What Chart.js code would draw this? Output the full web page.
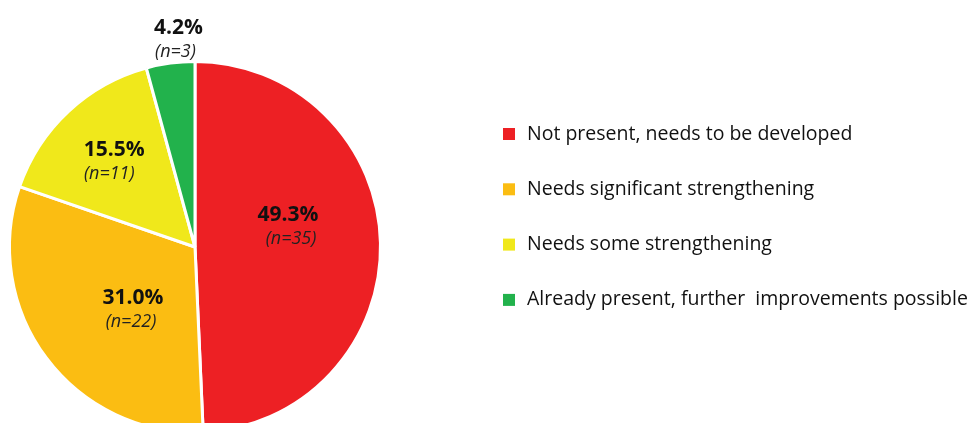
<!DOCTYPE html>
<html><head><meta charset="utf-8">
<script src="https://cdn.jsdelivr.net/npm/chart.js@4"></script>
<style>
html,body{margin:0;padding:0;background:#fff;overflow:hidden;}
#wrap{position:relative;width:976px;height:440px;}
</style></head><body>
<div id="wrap"><canvas id="c" width="976" height="440"></canvas></div>
<script>
const categories = ["Not present, needs to be developed","Needs significant strengthening","Needs some strengthening","Already present, further  improvements possible"];
const counts = [35, 22, 11, 3];
const percentLabels = ["49.3%","31.0%","15.5%","4.2%"];
const nLabels = ["(n=35)","(n=22)","(n=11)","(n=3)"];
const colors = ["#ED2024","#FBBD12","#F0E81B","#22B24C"];

const labelPos = [
  {r:0.55, dx:-9, dy:-30, ndx:3},
  {r:0.72, dx:45, dy:-29, ndx:-2},
  {r:0.85, dx:27, dy:18, ndx:-5},
  {r:1.0, dx:8, dy:-35, ndx:-3}
];
const FONT = "'Open Sans', 'Noto Sans', sans-serif";

const sliceLabels = {
  id:'sliceLabels',
  afterDatasetsDraw(chart){
    const ctx = chart.ctx;
    const meta = chart.getDatasetMeta(0);
    meta.data.forEach((arc,i)=>{
      const p = arc.getProps(['x','y','startAngle','endAngle','outerRadius'],true);
      const mid = (p.startAngle+p.endAngle)/2;
      const lp = labelPos[i];
      const rr = p.outerRadius*lp.r;
      const x = p.x + Math.cos(mid)*rr + lp.dx;
      const y = p.y + Math.sin(mid)*rr + lp.dy;
      ctx.save();
      ctx.textAlign='center';ctx.textBaseline='middle';
      ctx.fillStyle='#111';
      ctx.font = "bold 21px " + FONT;
      ctx.fillText(percentLabels[i], x, y);
      ctx.font = "italic 18px " + FONT;
      ctx.fillStyle='#222';
      ctx.fillText(nLabels[i], x + lp.ndx, y+24);
      ctx.restore();
    });
  }
};

const sideLegend = {
  id:'sideLegend',
  afterDraw(chart){
    const ctx = chart.ctx;
    ctx.save();
    ctx.textBaseline='middle';ctx.textAlign='left';
    ctx.font = "19.5px " + FONT;
    categories.forEach((c,i)=>{
      const y = 134 + i*55.3;
      ctx.fillStyle = colors[i];
      ctx.fillRect(503, y-6, 12, 12);
      ctx.fillStyle = '#111';
      ctx.fillText(c, 527, y);
    });
    ctx.restore();
  }
};

new Chart(document.getElementById('c'), {
  type:'pie',
  data:{labels:categories, datasets:[{data:counts, backgroundColor:colors, borderColor:'#fff', borderWidth:3}]},
  options:{
    responsive:false, animation:false,
    layout:{padding:{left:8, right:594, top:60, bottom:6}},
    plugins:{legend:{display:false}, tooltip:{enabled:false}}
  },
  plugins:[sliceLabels, sideLegend]
});
</script></body></html>
